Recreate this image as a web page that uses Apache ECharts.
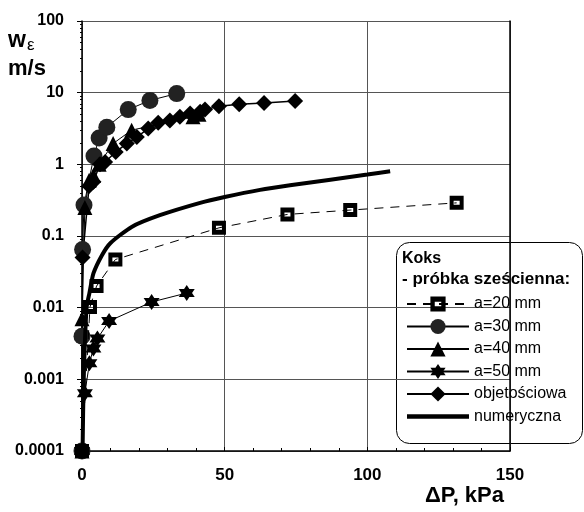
<!DOCTYPE html>
<html><head><meta charset="utf-8">
<script src="https://cdn.jsdelivr.net/npm/echarts@6/dist/echarts.min.js"></script>
<style>html,body{margin:0;padding:0;background:#fff}#c{width:584px;height:512px}</style>
</head><body><div id="c"></div>
<script>
const xTickLabels = ['0', '50', '100', '150'];
const yTickLabels = ['0.0001', '0.001', '0.01', '0.1', '1', '10', '100'];
const seriesNames = ['a=20 mm', 'a=30 mm', 'a=40 mm', 'a=50 mm', 'objetościowa', 'numeryczna'];

const a20X = [0, 2.8, 5.1, 11.7, 48, 72, 94, 131.3];
const a20Y = [0.0001, 0.0102, 0.02, 0.047, 0.13, 0.2, 0.23, 0.29];

const a30X = [0, 0, 0.2, 0.7, 4.2, 6.0, 8.7, 16.2, 23.8, 33.2];
const a30Y = [0.0001, 0.004, 0.065, 0.27, 1.31, 2.33, 3.3, 5.8, 7.8, 9.7];

const a40X = [0, 0, 1, 2.5, 4, 6, 10.9, 17.4, 38.9, 41];
const a40Y = [0.0001, 0.007, 0.25, 0.6, 0.7, 1.0, 1.95, 3.0, 4.6, 5.0];

const a50X = [0, 1.0, 2.6, 4.0, 5.4, 9.5, 24.4, 36.7];
const a50Y = [0.0001, 0.00064, 0.00167, 0.0027, 0.0037, 0.0065, 0.012, 0.016];

const objX = [0, 0.2, 2.5, 4, 6.3, 8.1, 11.8, 15.7, 19.2, 23.2, 26.7, 30.8, 34.3, 37.9, 41.4, 43.1, 48, 55.1, 63.8, 74.7];
const objY = [0.0001, 0.05, 0.5, 0.57, 1.0, 1.08, 1.49, 1.95, 2.4, 3.15, 3.8, 4.1, 4.6, 5.1, 5.4, 5.8, 6.45, 6.9, 7.2, 7.66];

const numX = [0.2, 0.6, 1.6, 2.6, 4, 7, 10, 17.4, 27.3, 41.4, 50, 62.4, 72.9, 100, 108];
const numY = [0.0001, 0.001, 0.01, 0.016, 0.03, 0.054, 0.08, 0.134, 0.195, 0.29, 0.35, 0.44, 0.51, 0.72, 0.8];

const zip = (xs, ys) => xs.map((x, i) => [x, ys[i]]);
const star6 = 'path://M0,-10L2.89,-5L8.66,-5L5.77,0L8.66,5L2.89,5L0,10L-2.89,5L-8.66,5L-5.77,0L-8.66,-5L-2.89,-5Z';
const holedSquare = 'path://M0,0L14,0L14,14L0,14Z M4,5L4,9L10,9L10,5Z';
const thickBar = 'path://M0,0L62,0L62,4.5L0,4.5Z';
const FONT = 'Liberation Sans, Arial, sans-serif';

const chart = echarts.init(document.getElementById('c'), null, {renderer: 'canvas'});
chart.setOption({
  animation: false,
  backgroundColor: '#fff',
  textStyle: {fontFamily: FONT},
  grid: {left: 82, right: 74, top: 21, bottom: 61},
  xAxis: {
    type: 'value', min: 0, max: 150, interval: 50,
    name: 'ΔP, kPa', nameLocation: 'end', nameGap: -6,
    nameTextStyle: {fontFamily: FONT, fontWeight: 'bold', fontSize: 22, color: '#000', align: 'right', verticalAlign: 'top', padding: [34, 0, 0, 0]},
    axisLine: {lineStyle: {color: '#000', width: 1.5}},
    axisTick: {show: true, inside: true, length: 4, lineStyle: {color: '#000'}},
    minorTick: {show: true, splitNumber: 5, length: 3, lineStyle: {color: '#000'}},
    axisLabel: {margin: 16, fontFamily: FONT, fontWeight: 'bold', fontSize: 17, color: '#000',
      formatter: v => xTickLabels[Math.round(v / 50)]},
    splitLine: {show: true, lineStyle: {color: '#555', width: 1}}
  },
  yAxis: [{
    type: 'log', logBase: 10, min: 0.0001, max: 100, splitNumber: 6,
    axisLine: {show: true, lineStyle: {color: '#000', width: 1.5}},
    axisTick: {show: true, inside: false, length: 5, lineStyle: {color: '#000'}},
    minorTick: {show: true, splitNumber: 9, length: 2, lineStyle: {color: '#000'}},
    axisLabel: {margin: 18, fontFamily: FONT, fontWeight: 'bold', fontSize: 16, color: '#000',
      formatter: v => yTickLabels[Math.round(Math.log10(v)) + 4]},
    splitLine: {show: true, lineStyle: {color: '#555', width: 1}}
  }, {
    type: 'log', logBase: 10, min: 0.0001, max: 100, position: 'right',
    axisLine: {show: true, lineStyle: {color: '#000', width: 1.5}},
    axisTick: {show: false}, axisLabel: {show: false}, splitLine: {show: false}
  }],
  legend: {
    orient: 'vertical', left: 401, top: 291, itemWidth: 62, itemHeight: 19, itemGap: 6.5,
    data: [seriesNames[0], seriesNames[1], seriesNames[2], seriesNames[3], seriesNames[4],
      {name: seriesNames[5], icon: thickBar}],
    textStyle: {fontFamily: FONT, fontSize: 16, color: '#000', padding: [0, 0, 0, 0]}
  },
  graphic: [
    {type: 'rect', left: 396, top: 242, z: 0,
      shape: {width: 186, height: 201, r: 13},
      style: {fill: '#fff', stroke: '#000', lineWidth: 1}},
    {type: 'text', left: 402, top: 251, z: 10,
      style: {text: 'Koks', font: 'bold 16px ' + FONT, fill: '#000'}},
    {type: 'text', left: 402, top: 271, z: 10,
      style: {text: '- próbka sześcienna:', font: 'bold 17px ' + FONT, fill: '#000'}},
    {type: 'text', left: 8, top: 29, z: 10,
      style: {text: 'w', font: 'bold 23px ' + FONT, fill: '#000'}},
    {type: 'text', left: 27, top: 37, z: 10,
      style: {text: 'ε', font: '17px ' + FONT, fill: '#000'}},
    {type: 'text', left: 8, top: 58, z: 10,
      style: {text: 'm/s', font: 'bold 22px ' + FONT, fill: '#000'}}
  ],
  series: [
    {name: seriesNames[0], type: 'line', data: zip(a20X, a20Y), z: 4,
      symbol: holedSquare, symbolSize: 14,
      itemStyle: {color: '#000'},
      lineStyle: {color: '#000', width: 1, type: [9, 7]}},
    {name: seriesNames[1], type: 'line', data: zip(a30X, a30Y), z: 3,
      symbol: 'circle', symbolSize: 17,
      itemStyle: {color: '#222', borderColor: '#222', borderWidth: 0},
      lineStyle: {color: '#000', width: 1}},
    {name: seriesNames[2], type: 'line', data: zip(a40X, a40Y), z: 3,
      symbol: 'triangle', symbolSize: 15,
      itemStyle: {color: '#000'},
      lineStyle: {color: '#000', width: 1}},
    {name: seriesNames[3], type: 'line', data: zip(a50X, a50Y), z: 3,
      symbol: star6, symbolSize: 16,
      itemStyle: {color: '#000'},
      lineStyle: {color: '#000', width: 1}},
    {name: seriesNames[4], type: 'line', data: zip(objX, objY), z: 3,
      symbol: 'diamond', symbolSize: 16,
      itemStyle: {color: '#000'},
      lineStyle: {color: '#000', width: 1.5}},
    {name: seriesNames[5], type: 'line', data: zip(numX, numY), z: 5,
      symbol: 'none', smooth: 0.2,
      itemStyle: {color: '#000'},
      lineStyle: {color: '#000', width: 4}}
  ]
});
</script>
</body></html>
